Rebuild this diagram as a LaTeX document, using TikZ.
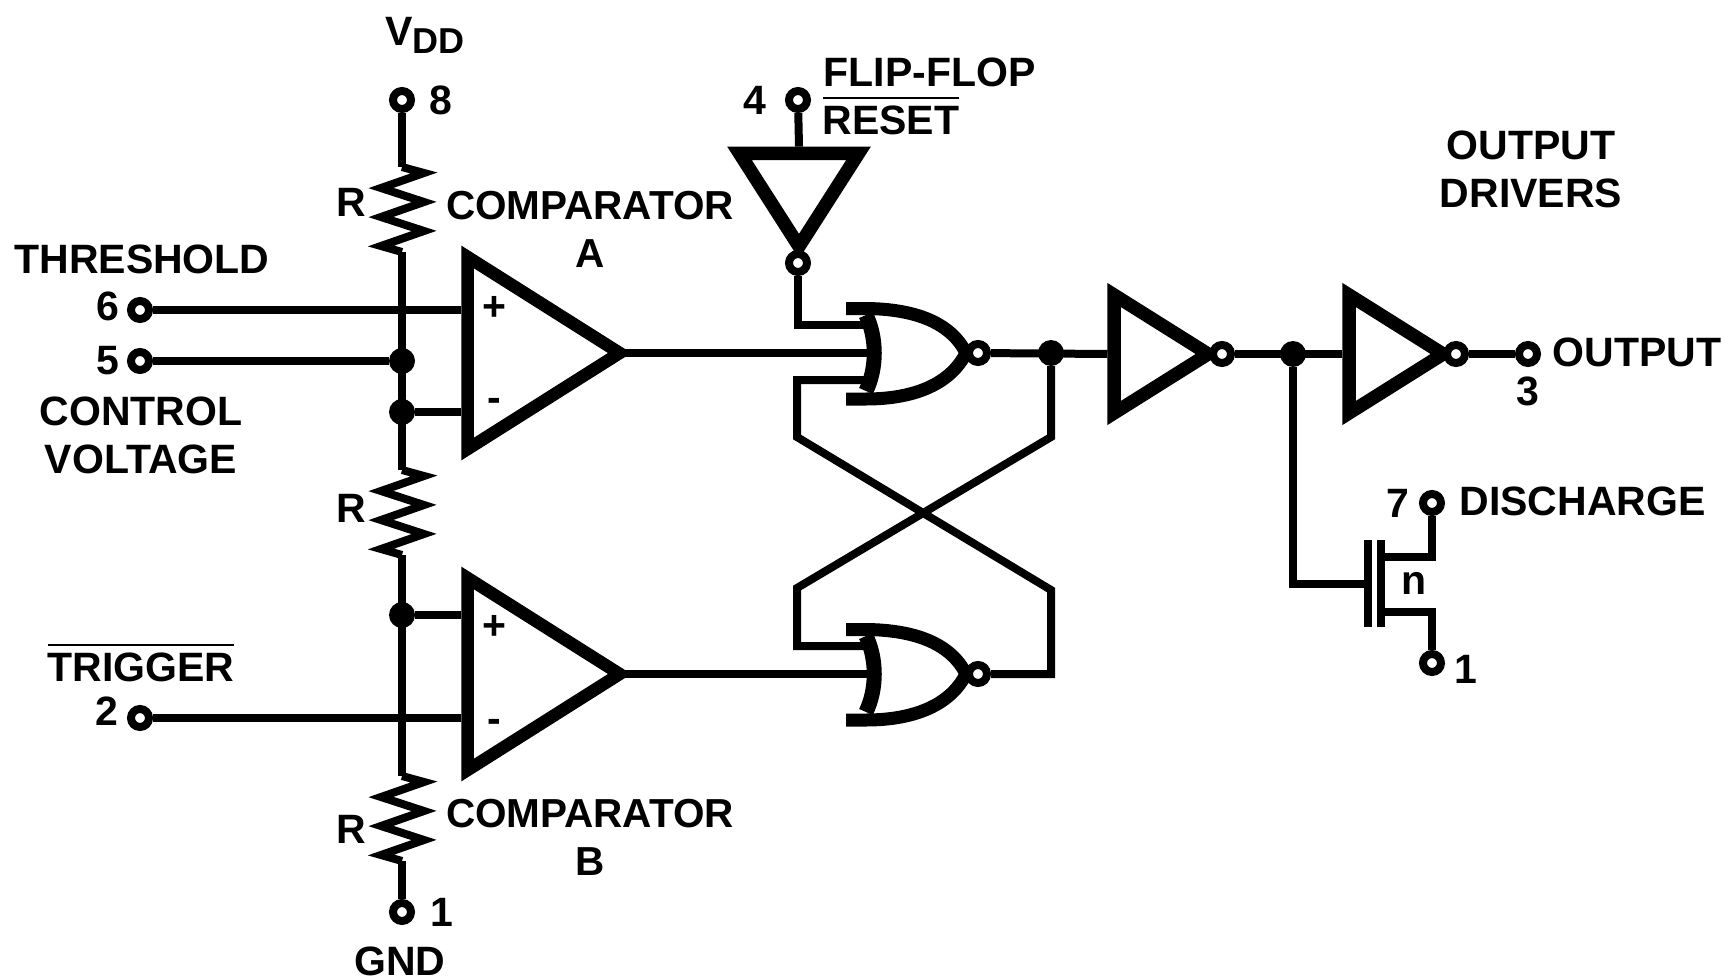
\documentclass[tikz,border=0pt]{standalone}
\usepackage{fontspec}
\setmainfont{Liberation Sans}
\usetikzlibrary{positioning, shapes.geometric}
\newcommand{\barred}[1]{\leavevmode\vbox{\hrule height 2.5pt\kern 7pt\hbox{#1}}}
\newcommand{\resistor}[1]{\draw[wire] (#1) -- ++(22,6) -- ++(-43,15) -- ++(43,14) -- ++(-43,15) -- ++(43,14) -- ++(-43,15) -- ++(21,6);}
\tikzset{
  wire/.style={line width=8pt},
  term/.style={circle, draw, fill=white, line width=8pt, minimum size=18pt, inner sep=0pt},
  junct/.style={circle, fill=black, minimum size=26pt, inner sep=0pt, outer sep=0pt},
  tri/.style={isosceles triangle, isosceles triangle stretches, draw, fill=white, inner sep=0pt, anchor=apex},
  comptri/.style={tri, line width=12.5pt, minimum height=152pt, minimum width=192pt},
  drvtri/.style={tri, line width=13.3pt, minimum height=94pt, minimum width=118pt},
  plate/.style={rectangle, fill=black, minimum width=8pt, minimum height=87pt, inner sep=0pt, outer sep=0pt},
  norbody/.pic={
    \draw[fill=white, line width=13pt] (0,-44.5) -- (20,-44.5) .. controls (70,-44) and (105,-30) .. (120,0) .. controls (105,30) and (70,46) .. (20,46) -- (0,46);
    \draw[line width=15pt] (20,-38) .. controls (31,-15) and (31,15) .. (20,38);
    \coordinate (-in1) at (25,-28);
    \coordinate (-in2) at (28,0);
    \coordinate (-in3) at (25,27);
    \node[term] (-bub) at (132,0) {};
  }
}
\begin{document}
\begin{tikzpicture}[x=1pt, y=-1pt, node distance=6pt, font=\bfseries\fontsize{41}{48}\selectfont]
\useasboundingbox (0,0) rectangle (1729,979);
\node[term] (t8) at (402,100) {};
\node[term] (t1) at (402,912) {};
\node[term] (t6) at (140,310) {};
\node[term] (t5) at (140,361) {};
\node[term] (t2) at (140,718) {};
\node[term] (t4) at (798,100) {};
\node[term] (t3) at (1528,354) {};
\node[term] (t7) at (1432,503) {};
\node[term] (t1b) at (1432,663) {};
\node[junct] (jc) at (402,361) {};
\node[junct] (ja) at (402,412) {};
\node[junct] (jb) at (402,615) {};
\node[junct] (jq) at (1051,353) {};
\node[junct] (jo) at (1293,354) {};
\coordinate (r1a) at (402,167);
\coordinate (r1b) at (402,252);
\coordinate (r2a) at (402,470);
\coordinate (r2b) at (402,555);
\coordinate (r3a) at (402,776);
\coordinate (r3b) at (402,861);
\coordinate (xa) at (797,437);
\coordinate (xb) at (1051,437);
\coordinate (xc) at (797,588);
\coordinate (xd) at (1051,590);
% divider
\draw[wire] (t8) -- (r1a);
\resistor{r1a}
\draw[wire] (r1b) -- (r2a);
\resistor{r2a}
\draw[wire] (r2b) -- (r3a);
\resistor{r3a}
\draw[wire] (r3b) -- (t1);
% comparators
\node[comptri] (compA) at (636,353) {};
\node[comptri] (compB) at (636,674) {};
\draw[wire] (t6) -- (t6 -| compA.lower side);
\draw[wire] (t5) -- (jc);
\draw[wire] (ja) -- (ja -| compA.lower side);
\draw[wire] (jb) -- (jb -| compB.lower side);
\draw[wire] (t2) -- (t2 -| compB.lower side);
\node at (494,308) {+};
\node at (494,405) {-};
\node at (494,627) {+};
\node at (494,726) {-};
% latch
\pic (norA) at (846,353) {norbody};
\pic (norB) at (846,674) {norbody};
\node[drvtri, shape border rotate=-90, line width=13.5pt, minimum height=93pt, minimum width=119pt] (invR) at (799,264) {};
\node[term] (bubR) at (798,263) {};
\draw[wire] (t4) -- (invR.lower side);
\draw[wire] (bubR) |- (norA-in1);
\draw[wire] ([xshift=-12pt]compA.apex) -- (norA-in2);
\draw[wire] ([xshift=-12pt]compB.apex) -- (norB-in2);
\draw[wire] (norA-in3) -| (xa) -- (xd) |- (norB-bub);
\draw[wire] (jq) -- (xb) -- (xc) |- (norB-in1);
% output stage
\node[drvtri] (drvA) at (1225.5,354) {};
\node[drvtri] (drvB) at (1460.5,354) {};
\node[term] (bubA) at (1222,354) {};
\node[term] (bubB) at (1456,354) {};
\draw[wire] (norA-bub) -- (drvA.lower side);
\draw[wire] (bubA) -- (drvB.lower side);
\draw[wire] (bubB) -- (t3);
\node[plate] (gplate) at (1367.5,583.5) {};
\node[plate] (cplate) at (1381,583.5) {};
\draw[wire] (jo) |- (gplate.west);
\draw[wire] (t7) |- ([yshift=27pt]cplate.east);
\draw[wire] (t1b) |- ([yshift=-28.5pt]cplate.east);
\node at (1414,583) {n};
% labels
\node[right=11pt of t8] (l8) {8};
\node at (425,35) {V\raisebox{-8pt}{\fontsize{36}{40}\selectfont DD}};
\node[right=12pt of t1] (l1) {1};
\node at (400,961) {GND};
\node at (142,259) {THRESHOLD};
\node[left=4pt of t6, yshift=4pt] (l6) {6};
\node[left=4pt of t5] (l5) {5};
\node[align=center] at (141,435) {CONTROL\\VOLTAGE};
\node at (141,663) {\barred{TRIGGER}};
\node at (107,711) {2};
\node at (351,202) {R};
\node at (351,508) {R};
\node at (351,829) {R};
\node[align=center, font=\bfseries\fontsize{40.5}{48}\selectfont] at (590,229) {COMPARATOR\\A};
\node[align=center, font=\bfseries\fontsize{40.5}{48}\selectfont] at (590,837) {COMPARATOR\\B};
\node[left=15pt of t4] (l4) {4};
\node[anchor=west] at (820,72) {FLIP-FLOP};
\node[anchor=west] at (819,116) {\barred{RESET}};
\node[align=center] at (1531,169) {OUTPUT\\DRIVERS};
\node[right=8pt of t3, yshift=2pt] (lout) {OUTPUT};
\node[below=of t3] (l3) {3};
\node[left=of t7] (l7) {7};
\node[right=11pt of t7, yshift=2pt] (ldis) {DISCHARGE};
\node[right=of t1b, yshift=-6pt] (l1b) {1};
\end{tikzpicture}
\end{document}
